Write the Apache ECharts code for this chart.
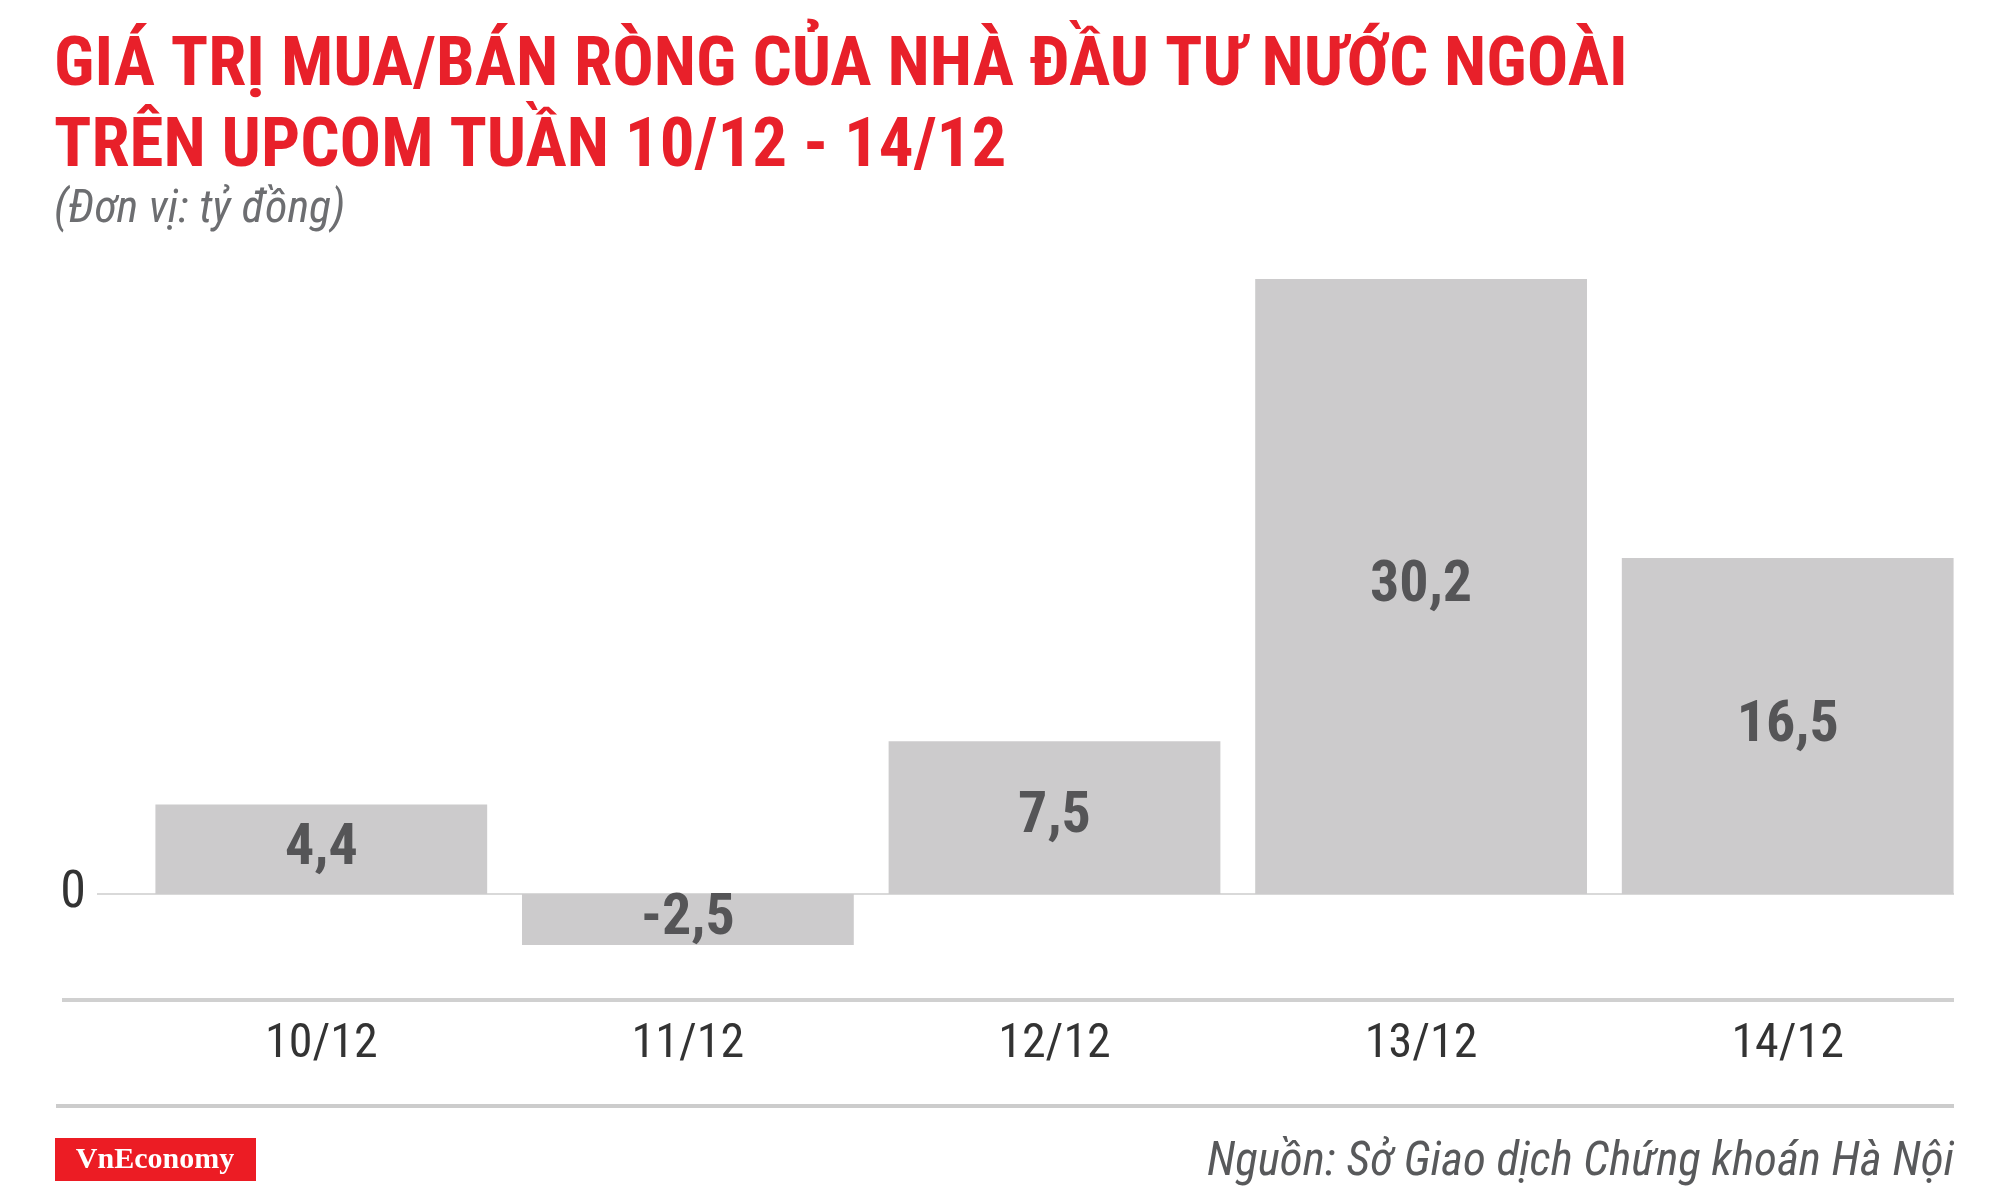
<!DOCTYPE html>
<html>
<head>
<meta charset="utf-8">
<script src="https://cdn.jsdelivr.net/npm/echarts@6/dist/echarts.min.js"></script>
<style>
html,body{margin:0;padding:0;background:#fff;}
#chart{width:2000px;height:1194px;}
</style>
</head>
<body>
<div id="chart"></div>
<script>
const categories = ['10/12', '11/12', '12/12', '13/12', '14/12'];
const netValues = [4.4, -2.5, 7.5, 30.2, 16.5];
const titleLines = ['GIÁ TRỊ MUA/BÁN RÒNG CỦA NHÀ ĐẦU TƯ NƯỚC NGOÀI', 'TRÊN UPCOM TUẦN 10/12 - 14/12'];
const unitText = '(Đơn vị: tỷ đồng)';
const sourceText = 'Nguồn: Sở Giao dịch Chứng khoán Hà Nội';
const brandText = 'VnEconomy';

const NARROW = "'Roboto Condensed','Liberation Sans Narrow','Arial Narrow','DejaVu Sans Condensed',sans-serif";
const fmt = v => v.toFixed(1).replace('.', ',');

const chart = echarts.init(document.getElementById('chart'));
const option = {
  backgroundColor: '#ffffff',
  animation: false,
  title: [
    {
      text: titleLines.join('\n'),
      left: 54, top: 27, padding: 0,
      textStyle: {fontFamily: NARROW, fontWeight: 'bold', fontSize: 69, lineHeight: 81, color: '#e8202a'}
    },
    {
      text: unitText,
      left: 54, top: 187, padding: 0,
      textStyle: {fontFamily: NARROW, fontStyle: 'italic', fontWeight: 'normal', fontSize: 46, lineHeight: 46, color: '#6d6e71'}
    }
  ],
  grid: {left: 138, right: 29, top: 279, bottom: 194},
  xAxis: {
    type: 'category',
    data: categories,
    axisLine: {show: false},
    axisTick: {show: false},
    axisLabel: {margin: 21, fontFamily: NARROW, fontSize: 48, color: '#333333'}
  },
  yAxis: {
    type: 'value',
    min: -5.2, max: 30.2, interval: 5.2,
    splitLine: {show: false},
    axisLine: {show: false},
    axisTick: {show: false},
    axisLabel: {
      margin: 52, fontFamily: NARROW, fontSize: 52, color: '#333333',
      formatter: v => Math.abs(v) < 1e-6 ? '0' : ''
    }
  },
  series: [{
    type: 'bar',
    data: netValues,
    barCategoryGap: '9.5%',
    itemStyle: {color: '#cccbcc'},
    label: {
      show: true, position: 'inside',
      fontFamily: NARROW, fontWeight: 'bold', fontSize: 58, color: '#555557',
      formatter: p => fmt(p.value)
    },
    z: 3
  }]
};
chart.setOption(option);

const zeroY = chart.convertToPixel({yAxisIndex: 0}, 0);
chart.setOption({
  graphic: [
    {type: 'line', z: 1, shape: {x1: 97, y1: zeroY, x2: 1954, y2: zeroY}, style: {stroke: '#d9d9d9', lineWidth: 2}},
    {type: 'rect', z: 1, shape: {x: 62, y: 998, width: 1892, height: 4}, style: {fill: '#d0d0d0'}},
    {type: 'rect', shape: {x: 56, y: 1104, width: 1898, height: 4}, style: {fill: '#cccccc'}},
    {type: 'rect', shape: {x: 55, y: 1138, width: 201, height: 43}, style: {fill: '#ec1c24'}},
    {type: 'text', x: 155, y: 1160, style: {text: brandText, fill: '#ffffff', font: "bold 30px 'Liberation Serif', serif", align: 'center', verticalAlign: 'middle'}},
    {type: 'text', x: 1954, y: 1163, style: {text: sourceText, fill: '#58595b', font: "italic normal 47px " + NARROW, align: 'right', verticalAlign: 'middle'}}
  ]
});
</script>
</body>
</html>
